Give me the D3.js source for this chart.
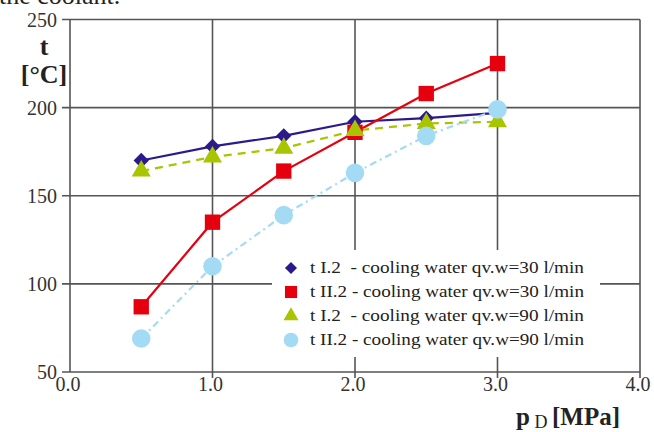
<!DOCTYPE html>
<html>
<head>
<meta charset="utf-8">
<script src="https://cdn.jsdelivr.net/npm/d3@7"></script>
<style>
  body { margin: 0; background: #fff; }
  svg { display: block; }
  text { font-family: "Liberation Serif", "DejaVu Serif", serif; }
</style>
</head>
<body>
<svg id="chart" width="654" height="432"></svg>
<script>
// pressure p_D [MPa] vs temperature t [°C]
const xTicks = [0, 1, 2, 3, 4];
const yTicks = [50, 100, 150, 200, 250];

const pressures = [0.5, 1.0, 1.5, 2.0, 2.5, 3.0];
const tI2_30 = [170, 178, 184, 192, 194, 197];
const tII2_30 = [87, 135, 164, 186, 208, 225];
const tI2_90 = [164, 172, 177, 187, 191, 192];
const tII2_90 = [69, 110, 139, 163, 184, 199];

const seriesNames = [
  "t I.2  - cooling water qv.w=30 l/min",
  "t II.2 - cooling water qv.w=30 l/min",
  "t I.2  - cooling water qv.w=90 l/min",
  "t II.2 - cooling water qv.w=90 l/min"
];

const svg = d3.select("#chart");
const x = d3.scaleLinear().domain([0, 4]).range([70, 640]);
const y = d3.scaleLinear().domain([50, 250]).range([372, 19.5]);

const gridColor = "#555";

// caption line above the chart, cropped at the top edge as in the original
svg.append("text")
  .attr("x", -1).attr("y", 4)
  .attr("font-size", 26).attr("fill", "#222")
  .text("the coolant.");

// grid
const grid = svg.append("g").attr("stroke", gridColor).attr("stroke-width", 1.6);
grid.selectAll("line.h")
  .data(yTicks)
  .join("line")
  .attr("x1", 62).attr("x2", x(4))
  .attr("y1", d => y(d)).attr("y2", d => y(d));
grid.selectAll("line.v")
  .data(xTicks)
  .join("line")
  .attr("x1", d => x(d)).attr("x2", d => x(d))
  .attr("y1", y(250)).attr("y2", d => d === 0 ? y(50) : y(50) + 6);

// y tick labels
svg.append("g").selectAll("text")
  .data(yTicks)
  .join("text")
  .attr("x", 57).attr("y", d => y(d) + 7)
  .attr("text-anchor", "end")
  .attr("font-size", 20).attr("fill", "#333")
  .text(d => d);

// x tick labels
svg.append("g").selectAll("text")
  .data(xTicks)
  .join("text")
  .attr("x", d => x(d) - 2).attr("y", 391)
  .attr("text-anchor", "middle")
  .attr("font-size", 20).attr("fill", "#333")
  .text(d => d3.format(".1f")(d));

// axis titles
svg.append("text")
  .attr("x", 44).attr("y", 55)
  .attr("text-anchor", "middle")
  .attr("font-size", 26).attr("font-weight", "bold").attr("fill", "#222")
  .text("t");
svg.append("text")
  .attr("x", 44).attr("y", 83)
  .attr("text-anchor", "middle")
  .attr("font-size", 26).attr("font-weight", "bold").attr("fill", "#222")
  .text("[°C]");

const xt = svg.append("text")
  .attr("x", 620).attr("y", 425)
  .attr("text-anchor", "end")
  .attr("font-size", 25).attr("font-weight", "bold").attr("fill", "#222");
xt.append("tspan").text("p");
xt.append("tspan").attr("font-size", 18).attr("font-weight", "normal").attr("dy", 3).text(" D ");
xt.append("tspan").attr("dy", -3).text("[MPa]");

// series
const series = [
  { name: seriesNames[0], values: tI2_30, color: "#2b1a8c", dash: null, shape: d3.symbolDiamond2, size: 150 },
  { name: seriesNames[1], values: tII2_30, color: "#e6000e", dash: null, shape: d3.symbolSquare2, size: 300 },
  { name: seriesNames[2], values: tI2_90, color: "#a9c400", dash: "8,6", shape: d3.symbolTriangle2, size: 260 },
  { name: seriesNames[3], values: tII2_90, color: "#a3dbf4", dash: "7,4,2,4", shape: d3.symbolCircle, size: 270 }
];

const line = d3.line()
  .x(d => x(d[0]))
  .y(d => y(d[1]));

series.forEach(s => {
  const pts = pressures.map((p, i) => [p, s.values[i]]);
  svg.append("path")
    .datum(pts)
    .attr("d", line)
    .attr("fill", "none")
    .attr("stroke", s.color)
    .attr("stroke-width", 2.2)
    .attr("stroke-dasharray", s.dash);
});

// markers drawn in order, later series on top
series.forEach(s => {
  svg.append("g").selectAll("path")
    .data(pressures.map((p, i) => [p, s.values[i]]))
    .join("path")
    .attr("transform", d => `translate(${x(d[0])},${y(d[1])})`)
    .attr("d", d3.symbol().type(s.shape).size(s.size))
    .attr("fill", s.color);
});

// legend box covers part of the grid
const legend = svg.append("g").attr("transform", "translate(272,250)");
legend.append("rect")
  .attr("width", 328).attr("height", 107)
  .attr("fill", "#fff");
const rows = legend.selectAll("g.row")
  .data(series)
  .join("g")
  .attr("transform", (d, i) => `translate(19,${18 + i * 24})`);
rows.append("path")
  .attr("d", d => d3.symbol().type(d.shape).size(d.size * 0.62)())
  .attr("fill", d => d.color);
rows.append("text")
  .attr("x", 19).attr("y", 5)
  .attr("font-size", 17).attr("fill", "#222")
  .attr("xml:space", "preserve")
  .style("white-space", "pre")
  .attr("textLength", 274)
  .attr("lengthAdjust", "spacingAndGlyphs")
  .text(d => d.name);
</script>
</body>
</html>
